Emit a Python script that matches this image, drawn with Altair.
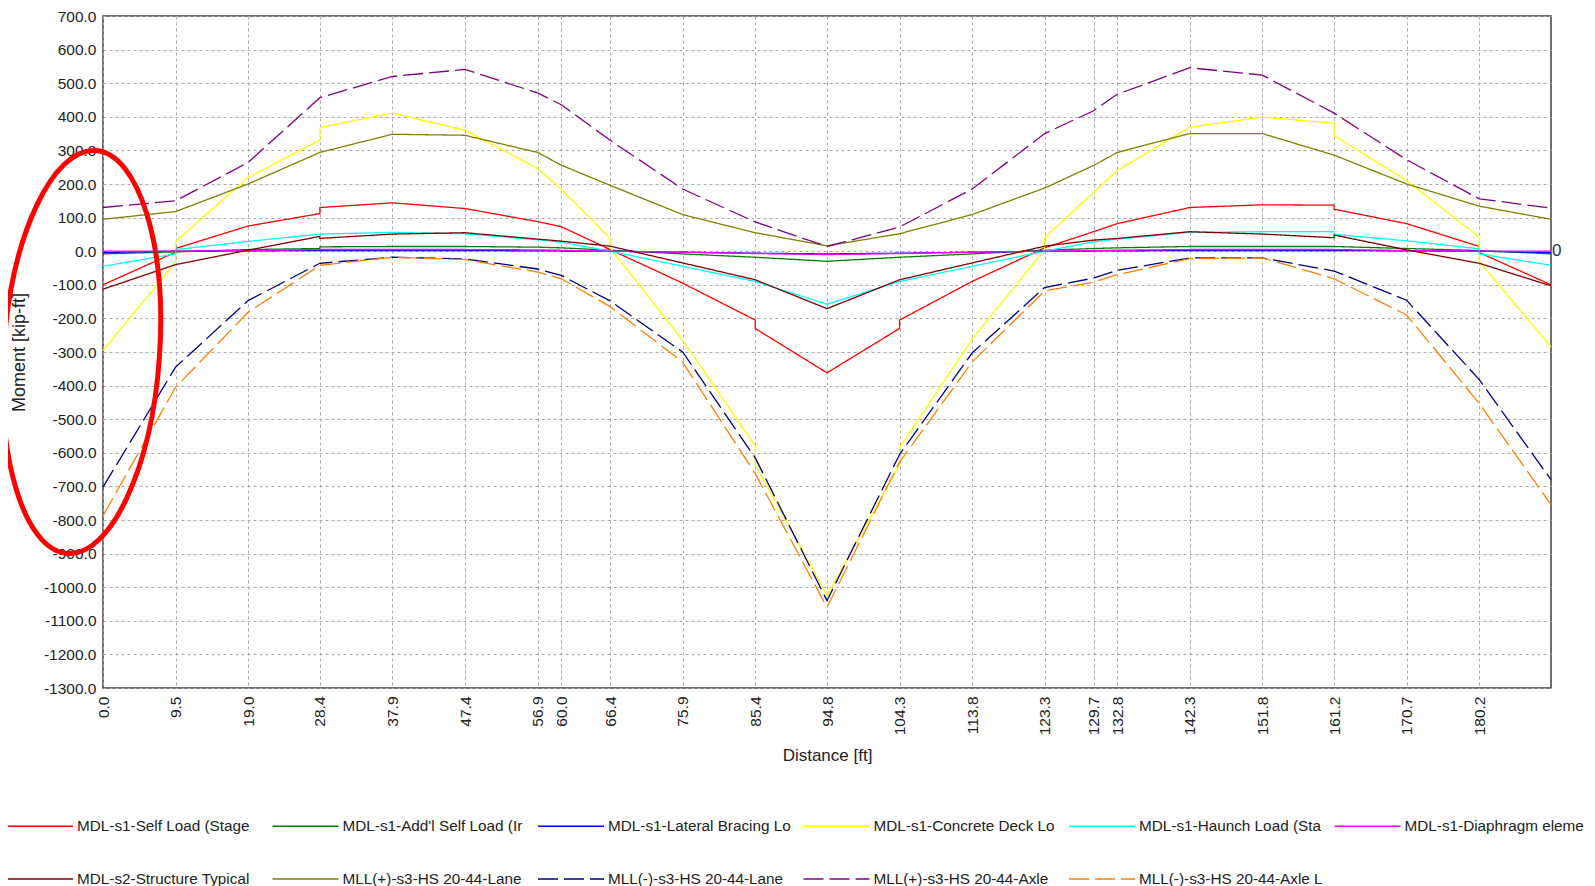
import altair as alt
import pandas as pd

# ---------------- data ----------------
X_TICKS = [0.0, 9.5, 19.0, 28.4, 37.9, 47.4, 56.9, 60.0, 66.4, 75.9, 85.4, 94.8,
           104.3, 113.8, 123.3, 129.7, 132.8, 142.3, 151.8, 161.2, 170.7, 180.2]
Y_TICKS = list(range(-1300, 800, 100))
X_END = 189.6
STATIONS = X_TICKS + [X_END]

SERIES = [
    "MDL-s1-Self Load (Stage",
    "MDL-s1-Add'l Self Load (Ir",
    "MDL-s1-Lateral Bracing Lo",
    "MDL-s1-Concrete Deck Lo",
    "MDL-s1-Haunch Load (Sta",
    "MDL-s1-Diaphragm eleme",
    "MDL-s2-Structure Typical",
    "MLL(+)-s3-HS 20-44-Lane",
    "MLL(-)-s3-HS 20-44-Lane",
    "MLL(+)-s3-HS 20-44-Axle",
    "MLL(-)-s3-HS 20-44-Axle L",
]
COLORS = ["#FF0000", "#008000", "#0000FF", "#FFFF00", "#00FFFF", "#FF00FF",
          "#800000", "#808000", "#000080", "#800080", "#FF8000"]
DASHED = [False, False, False, False, False, False, False, False, True, True, True]

self_load_x = [0, 9.5, 9.5, 19.0, 28.4, 28.4, 37.9, 47.4, 56.9, 60.0, 66.4, 75.9, 85.4, 85.4,
               94.8, 104.3, 104.3, 113.8, 123.3, 129.7, 132.8, 142.3, 151.8, 161.2, 161.2,
               170.7, 180.2, 180.2, 189.6]
self_load_y = [-100, -3, 8, 75, 112, 130, 144, 127, 88, 73, 5, -95, -205, -230,
               -362, -230, -205, -90, 10, 58, 82, 130, 138, 137, 125,
               82, 14, -4, -100]

addl_x = [0, 9.5, 19.0, 28.4, 28.4, 37.9, 47.4, 56.9, 60.0, 66.4, 75.9, 85.4, 94.8,
          104.3, 113.8, 123.3, 129.7, 132.8, 142.3, 151.8, 161.2, 170.7, 180.2, 189.6]
addl_y = [-8, -2, 5, 8, 13, 14, 14, 12, 10, 3, -8, -18, -30,
          -18, -8, 3, 8, 10, 14, 14, 14, 8, 2, -8]

bracing_x = [0, 9.5, 28.4, 47.4, 66.4, 75.9, 85.4, 94.8, 104.3, 113.8, 123.3, 142.3,
             161.2, 180.2, 189.6]
bracing_y = [-4, 0, 2, 2, 0, -3, -6, -8, -6, -3, 0, 2, 2, 0, -4]

deck_x = [0, 9.5, 9.5, 19.0, 28.4, 28.4, 37.9, 47.4, 56.9, 60.0, 66.4, 66.4, 75.9, 85.4,
          85.4, 94.8, 104.3, 104.3, 113.8, 123.3, 123.3, 129.7, 132.8, 142.3, 151.8,
          161.2, 161.2, 170.7, 180.2, 180.2, 189.6]
deck_y = [-296, -33, 28, 220, 331, 368, 411, 360, 246, 185, 38, 10, -265, -580,
          -635, -1025, -635, -585, -262, 5, 40, 175, 240, 369, 399,
          381, 344, 210, 42, -31, -285]

haunch_x = [0, 9.5, 9.5, 19.0, 28.4, 37.9, 47.4, 56.9, 60.0, 66.4, 75.9, 85.4, 94.8,
            104.3, 113.8, 123.3, 129.7, 132.8, 142.3, 151.8, 161.2, 161.2, 170.7,
            180.2, 180.2, 189.6]
haunch_y = [-45, -8, 5, 29, 51, 56, 52, 34, 27, 0, -45, -90, -158,
            -90, -45, 0, 28, 36, 56, 58, 58, 50, 31,
            7, -8, -42]

diaphragm_x = [0, 9.5, 19.0, 28.4, 47.4, 56.9, 66.4, 75.9, 85.4, 94.8, 104.3, 113.8,
               123.3, 132.8, 142.3, 161.2, 170.7, 180.2, 189.6]
diaphragm_y = [0, 0, 2, 5, 5, 4, 0, -3, -7, -10, -7, -3, 0, 3, 5, 5, 2, 0, 0]

structure_x = [0, 9.5, 19.0, 28.4, 28.4, 37.9, 47.4, 56.9, 60.0, 66.4, 75.9, 85.4, 94.8,
               104.3, 113.8, 123.3, 129.7, 132.8, 142.3, 151.8, 161.2, 161.2, 170.7,
               180.2, 189.6]
structure_y = [-113, -40, 3, 44, 38, 51, 55, 36, 30, 15, -35, -85, -171,
               -85, -35, 15, 33, 38, 58, 51, 40, 48, 4,
               -36, -103]

lane_pos_y = [95, 118, 200, 294, 348, 345, 294, 256, 196, 109, 55, 16,
              52, 109, 188, 255, 294, 350, 350, 286, 200, 134, 95]
lane_neg_y = [-702, -345, -147, -36, -18, -23, -53, -72, -148, -300, -615, -1040,
              -605, -303, -108, -80, -57, -20, -20, -59, -146, -382, -680]
axle_pos_y = [130, 150, 264, 457, 520, 541, 471, 436, 330, 185, 87, 14,
              72, 185, 350, 418, 467, 546, 524, 411, 272, 156, 128]
axle_neg_y = [-787, -405, -182, -42, -18, -25, -62, -82, -165, -330, -662, -1060,
              -628, -330, -118, -92, -70, -22, -20, -82, -190, -453, -754]

SERIES_XY = [
    (self_load_x, self_load_y),
    (addl_x, addl_y),
    (bracing_x, bracing_y),
    (deck_x, deck_y),
    (haunch_x, haunch_y),
    (diaphragm_x, diaphragm_y),
    (structure_x, structure_y),
    (STATIONS, lane_pos_y),
    (STATIONS, lane_neg_y),
    (STATIONS, axle_pos_y),
    (STATIONS, axle_neg_y),
]

# annotation: the hand-drawn red ring around the y labels, and the clipped "0"
HL_X = [-2.8]
HL_Y = [-300]
ZERO_X = [X_END]
ZERO_Y = [0]

# ---------------- build tables ----------------
rows = []
for name, (xs, ys) in zip(SERIES, SERIES_XY):
    for k, (xv, yv) in enumerate(zip(xs, ys)):
        rows.append({"series": name, "x": xv, "y": yv, "ord": k})
df = pd.DataFrame(rows)

FONT = "Liberation Sans"
TXT = "#222222"
DASH_RANGE = [[20, 6] if d else [1, 0] for d in DASHED]
HYPHEN_FMT = "(datum.value < 0 ? '-' : '') + format(abs(datum.value), '.1f')"

xscale = alt.Scale(domain=[0, X_END], nice=False, zero=False)
yscale = alt.Scale(domain=[-1300, 700], nice=False, zero=False)

x_axis = alt.Axis(values=X_TICKS, labelExpr=HYPHEN_FMT, labelAngle=270,
                  labelOverlap=False, title="Distance [ft]", titleFontSize=17,
                  titlePadding=13, labelPadding=8)
y_axis = alt.Axis(values=Y_TICKS, labelExpr=HYPHEN_FMT, labelOverlap=False,
                  title="Moment [kip-ft]", titleFontSize=18, titlePadding=15,
                  labelPadding=7)

legend_common = dict(
    orient="none", legendX=-97, legendY=801, direction="horizontal", columns=6,
    title=None, symbolType="M-1,0H7.25", symbolSize=256, symbolStrokeWidth=1.5,
    labelOffset=53, labelFontSize=15.3, labelFont=FONT, labelColor=TXT,
    labelLimit=400, gridAlign="all", columnPadding=8.5, rowPadding=35, padding=0,
)

lines = alt.Chart(df).mark_line(strokeWidth=1.3).encode(
    x=alt.X("x:Q", scale=xscale, axis=x_axis),
    y=alt.Y("y:Q", scale=yscale, axis=y_axis),
    color=alt.Color("series:N", scale=alt.Scale(domain=SERIES, range=COLORS),
                    legend=alt.Legend(**legend_common)),
    strokeDash=alt.StrokeDash("series:N", scale=alt.Scale(domain=SERIES, range=DASH_RANGE),
                              legend=alt.Legend(**legend_common)),
    order=alt.Order("ord:Q"),
)

zero_df = pd.DataFrame({"x": ZERO_X, "y": ZERO_Y, "t": ["0"]})
zero_lbl = alt.Chart(zero_df).mark_text(
    align="left", baseline="middle", dx=1, fontSize=17, font=FONT, color="#2a3550"
).encode(x=alt.X("x:Q", scale=xscale, axis=x_axis),
         y=alt.Y("y:Q", scale=yscale, axis=y_axis), text="t:N")

ring_df = pd.DataFrame({"x": HL_X, "y": HL_Y})
ring = alt.Chart(ring_df).mark_point(
    shape="M-0.386,0A0.386,1,0,1,1,0.386,0A0.386,1,0,1,1,-0.386,0Z",
    size=163216, filled=False, stroke="#FF0000", strokeWidth=5, opacity=1, angle=4,
).encode(x=alt.X("x:Q", scale=xscale, axis=x_axis),
         y=alt.Y("y:Q", scale=yscale, axis=y_axis))

chart = alt.layer(lines, zero_lbl, ring).properties(
    width=1448, height=672,
    padding={"left": 95, "top": 8, "right": 36, "bottom": 198},
    autosize=alt.AutoSizeParams(type="none"),
).configure_view(
    stroke="#404040", strokeWidth=1.5
).configure_axis(
    domain=False, ticks=False, grid=True, gridColor="#A8A8A8", gridDash=[3, 3],
    gridWidth=1, labelFont=FONT, labelFontSize=15.5, labelColor=TXT,
    titleFont=FONT, titleFontWeight="normal", titleColor=TXT, labelOverlap=False,
)

chart.save("out.html", embed_options={"renderer": "svg", "actions": False})
